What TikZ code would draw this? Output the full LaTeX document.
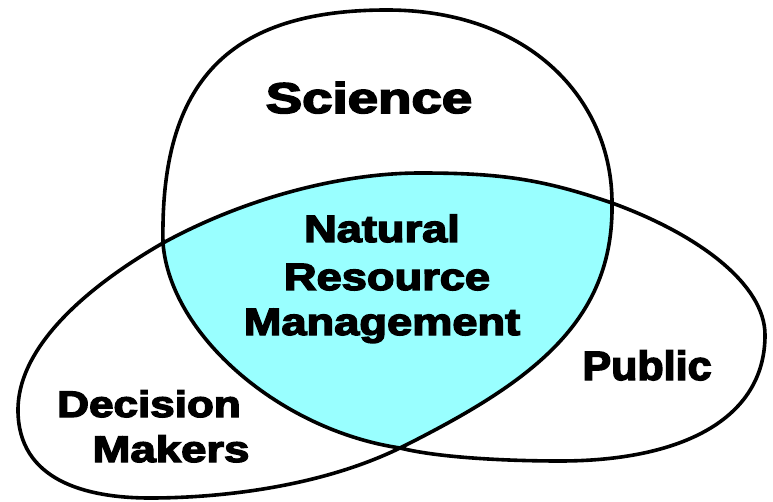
\documentclass[tikz,border=0pt]{standalone}
\usepackage{fontspec}
\newfontfamily\heavy[FakeBold=3.5]{Liberation Sans Bold}
\definecolor{nrmcyan}{RGB}{153,255,255}
\begin{document}
\begin{tikzpicture}[x=1pt,y=-1pt,
  outline/.style={draw=black,line width=3.6pt,line join=round},
  lbl/.style={anchor=base,inner sep=0pt,text=black,transform shape}]
\useasboundingbox (0,0) rectangle (773,502);
% crossing points and extremes
\coordinate (L) at (163,243);
\coordinate (R) at (612,203);
\coordinate (B) at (400,448);
\coordinate (T) at (387,10);
\coordinate (P) at (420,173);
\coordinate (DL) at (18,410);
\coordinate (DB) at (150,498);
\coordinate (PB) at (560,461);
\coordinate (PR) at (765,335);
% central fill
\fill[nrmcyan] (R) .. controls (542,179) and (500,173) .. (P)
  .. controls (340,173) and (243,199) .. (L)
  .. controls (170,335) and (280,430) .. (B)
  .. controls (530,383) and (614,323) .. (R) -- cycle;
% single trefoil outline
\draw[outline] (L) .. controls (160,80) and (230,10) .. (T)
  .. controls (530,10) and (612,100) .. (R)
  .. controls (614,323) and (530,383) .. (B)
  .. controls (320,487) and (220,498) .. (DB)
  .. controls (85,498) and (18,480) .. (DL)
  .. controls (18,345) and (90,285) .. (L)
  .. controls (243,199) and (340,173) .. (P)
  .. controls (500,173) and (542,179) .. (R)
  .. controls (700,235) and (765,285) .. (PR)
  .. controls (765,420) and (680,461) .. (PB)
  .. controls (510,461) and (440,458) .. (B)
  .. controls (280,430) and (170,335) .. (L) -- cycle;
% labels
\node[lbl,xscale=1.27,font=\heavy\fontsize{43}{43}\selectfont] (sci) at (369,113) {Science};
\node[lbl,xscale=1.19,font=\heavy\fontsize{38}{38}\selectfont] (nat) at (382,242) {Natural};
\node[lbl,xscale=1.19,font=\heavy\fontsize{38}{38}\selectfont] (res) at (387,290) {Resource};
\node[lbl,xscale=1.19,font=\heavy\fontsize{38}{38}\selectfont] (man) at (382,335) {Management};
\node[lbl,xscale=1.19,font=\heavy\fontsize{37}{37}\selectfont] (dec) at (149,417) {Decision};
\node[lbl,xscale=1.23,font=\heavy\fontsize{37}{37}\selectfont] (mak) at (171,462) {Makers};
\node[lbl,xscale=1.05,font=\heavy\fontsize{41}{41}\selectfont] (pub) at (647,380) {Public};
\end{tikzpicture}
\end{document}
